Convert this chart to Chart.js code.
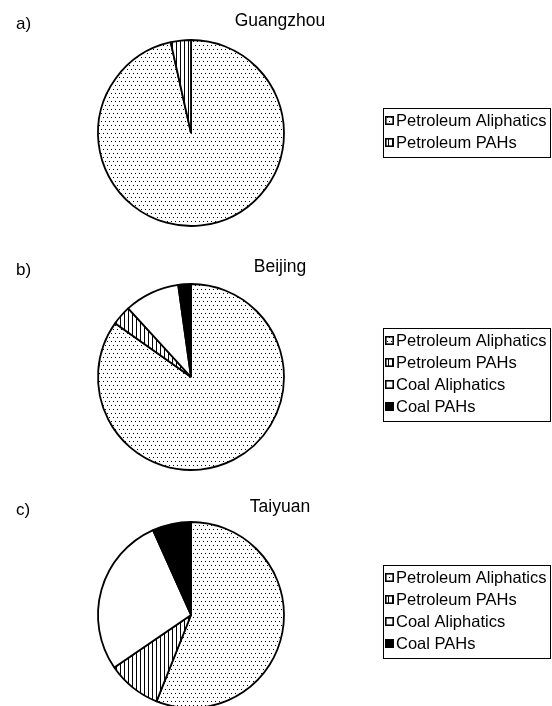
<!DOCTYPE html>
<html>
<head>
<meta charset="utf-8">
<script src="https://cdn.jsdelivr.net/npm/chart.js@4"></script>
<style>
    html, body { margin: 0; padding: 0; background: #fff; }
    #wrap { position: relative; width: 552px; height: 706px; overflow: hidden; background: #fff; }
    #wrap canvas { position: absolute; left: 0; top: 0; }
</style>
</head>
<body>
<div id="wrap">
    <canvas id="chart-a" width="552" height="706"></canvas>
    <canvas id="chart-b" width="552" height="706"></canvas>
    <canvas id="chart-c" width="552" height="706"></canvas>
</div>
<script>
const categories = ['Petroleum Aliphatics', 'Petroleum PAHs', 'Coal Aliphatics', 'Coal PAHs'];
const cities = ['Guangzhou', 'Beijing', 'Taiyuan'];
const panelTags = ['a)', 'b)', 'c)'];

// shares in % (clockwise from 12 o'clock)
const guangzhouShares = [96.5, 3.5];
const beijingShares = [84.8, 3.4, 9.6, 2.2];
const taiyuanShares = [56.1, 9.4, 27.9, 6.7];

const shares = [guangzhouShares, beijingShares, taiyuanShares];

// page layout for each panel
const panels = [
    { id: 'chart-a', tagY: 24, titleY: 21, pieY: 133, legendTop: 108 },
    { id: 'chart-b', tagY: 270, titleY: 267, pieY: 377, legendTop: 328 },
    { id: 'chart-c', tagY: 510, titleY: 507, pieY: 615, legendTop: 565 }
];

const PAGE_H = 706;
const PIE_X = 191;
const PIE_R = 93;
const FONT = '"Liberation Sans", Arial, Helvetica, sans-serif';

function makePattern(ctx, kind) {
    let tile = document.createElement('canvas');
    let g = tile.getContext('2d');

    if (kind === 'dots') {
        tile.width = 4;
        tile.height = 8;
        g.fillStyle = '#fff';
        g.fillRect(0, 0, 4, 8);
        g.fillStyle = '#000';
        g.fillRect(1, 1, 1, 1);
        g.fillRect(3, 5, 1, 1);
    } else {
        // vertical stripes
        tile.width = 4;
        tile.height = 4;
        g.fillStyle = '#fff';
        g.fillRect(0, 0, 4, 4);
        g.fillStyle = '#000';
        g.fillRect(0, 0, 1, 4);
    }
    return ctx.createPattern(tile, 'repeat');
}

// boxed legend to the right of each pie
const boxLegend = {
    id: 'boxLegend',
    afterDraw(chart, args, opts) {
        const ctx = chart.ctx;
        const labels = chart.data.labels;
        const fills = chart.data.datasets[0].backgroundColor;
        const rowGap = 22;
        const top = opts.top;
        const bottom = top + 12 + (labels.length - 1) * rowGap + 15;

        ctx.save();
        ctx.strokeStyle = '#000';
        ctx.lineWidth = 1;
        ctx.strokeRect(383.5, top + 0.5, 167, bottom - top);

        ctx.font = '16.5px ' + FONT;
        ctx.textBaseline = 'middle';
        ctx.textAlign = 'left';

        for (let i = 0; i < labels.length; i++) {
            let cy = top + 12 + i * rowGap;
            ctx.fillStyle = fills[i];
            ctx.fillRect(385, cy - 4, 9, 9);
            ctx.lineWidth = 1.6;
            ctx.strokeRect(385.8, cy - 3.2, 7.4, 7.4);
            ctx.fillStyle = '#000';
            ctx.fillText(labels[i], 396, cy + 1);
        }
        ctx.restore();
    }
};

// city title and panel letter
const panelText = {
    id: 'panelText',
    afterDraw(chart, args, opts) {
        const ctx = chart.ctx;
        ctx.save();
        ctx.fillStyle = '#000';
        ctx.font = '17.5px ' + FONT;
        ctx.textBaseline = 'middle';
        ctx.textAlign = 'center';
        ctx.fillText(opts.title, 280, opts.titleY);
        ctx.font = '17px ' + FONT;
        ctx.textAlign = 'left';
        ctx.fillText(opts.tag, 16, opts.tagY);
        ctx.restore();
    }
};

for (let p = 0; p < panels.length; p++) {
    let panel = panels[p];
    let canvas = document.getElementById(panel.id);
    let ctx = canvas.getContext('2d');
    let values = shares[p];
    let fillAll = [makePattern(ctx, 'dots'), makePattern(ctx, 'stripes'), '#fff', '#000'];

    new Chart(canvas, {
        type: 'pie',
        data: {
            labels: categories.slice(0, values.length),
            datasets: [{
                data: values,
                backgroundColor: fillAll.slice(0, values.length),
                borderColor: '#000',
                borderWidth: 1.8,
                radius: PIE_R,
                hoverOffset: 0,
                clip: false
            }]
        },
        options: {
            responsive: false,
            animation: false,
            events: [],
            layout: {
                padding: {
                    left: PIE_X - 80,
                    right: 552 - (PIE_X + 80),
                    top: panel.pieY - 80,
                    bottom: PAGE_H - (panel.pieY + 80)
                }
            },
            plugins: {
                legend: { display: false },
                tooltip: { enabled: false },
                boxLegend: { top: panel.legendTop },
                panelText: {
                    title: cities[p],
                    titleY: panel.titleY,
                    tag: panelTags[p],
                    tagY: panel.tagY
                }
            }
        },
        plugins: [boxLegend, panelText]
    });
}
</script>
</body>
</html>
